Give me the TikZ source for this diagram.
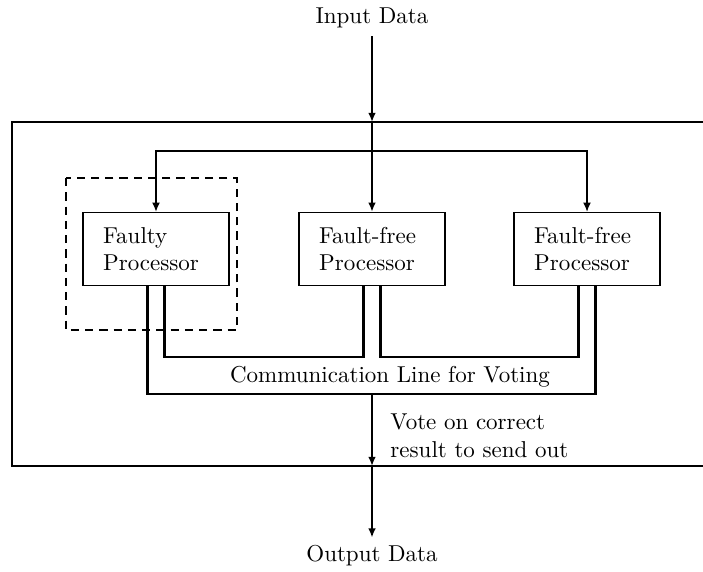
\documentclass[tikz,border=0pt]{standalone}
\usetikzlibrary{arrows.meta}
\begin{document}
\begin{tikzpicture}[x=0.435pt,y=-0.435pt,
  proc/.style={draw, line width=0.6pt, text width=46pt, inner xsep=8.75pt, minimum height=31.8pt, align=left},
  thickline/.style={line width=1.1pt},
  thinline/.style={line width=0.5pt},
  tip/.style={-{Latex[length=4pt,width=3.4pt]}},
  lbl/.style={inner sep=0pt, align=left}]
\useasboundingbox (0,0) rectangle (703,571);
% outer system boundary
\draw[line width=0.45pt] (703,122) -- (12,122) -- (12,466) -- (703,466);
% dashed fault region
\draw[line width=0.8pt, dash pattern=on 3.6pt off 2.6pt] (66,178) rectangle (237,330);
% processors
\node[proc] (faulty) at (156,249) {Faulty\\Processor};
\node[proc] (ff1) at (372,249) {Fault-free\\Processor};
\node[proc] (ff2) at (587,249) {Fault-free\\Processor};
% texts
\node (in) at (372,18) {Input Data};
\node (out) at (372,556) {Output Data};
\node (comm) at (390,377) {Communication Line for Voting};
\node[lbl, anchor=west] (vote) at (390,436) {Vote on correct\\result to send out};
% coordinates
\coordinate (boxtop) at (372,122);
\coordinate (split) at (372,151);
\coordinate (innerbus) at (372,357);
\coordinate (outerbus) at (372,394);
\coordinate (boxbot) at (372,466);
\coordinate (fa) at ([xshift=-3.7pt]faulty.south);
\coordinate (fb) at ([xshift=3.7pt]faulty.south);
\coordinate (ma) at ([xshift=-3.7pt]ff1.south);
\coordinate (mb) at ([xshift=3.7pt]ff1.south);
\coordinate (ra) at ([xshift=-3.7pt]ff2.south);
\coordinate (rb) at ([xshift=3.7pt]ff2.south);
% input
\draw[thickline, tip] (in) -- (boxtop);
\draw[thickline, tip] (boxtop) -- (ff1.north);
\draw[thinline, tip] (split) -| (faulty.north);
\draw[thinline, tip] (split) -| (ff2.north);
% communication lines
\draw[thickline] (fb) |- (ma |- innerbus) -- (ma);
\draw[thickline] (mb) |- (ra |- innerbus) -- (ra);
\draw[thickline] (fa) |- (outerbus) -| (rb);
% output
\draw[thickline, tip] (outerbus) -- (boxbot);
\draw[thickline, tip] (boxbot) -- (out);
\end{tikzpicture}
\end{document}
